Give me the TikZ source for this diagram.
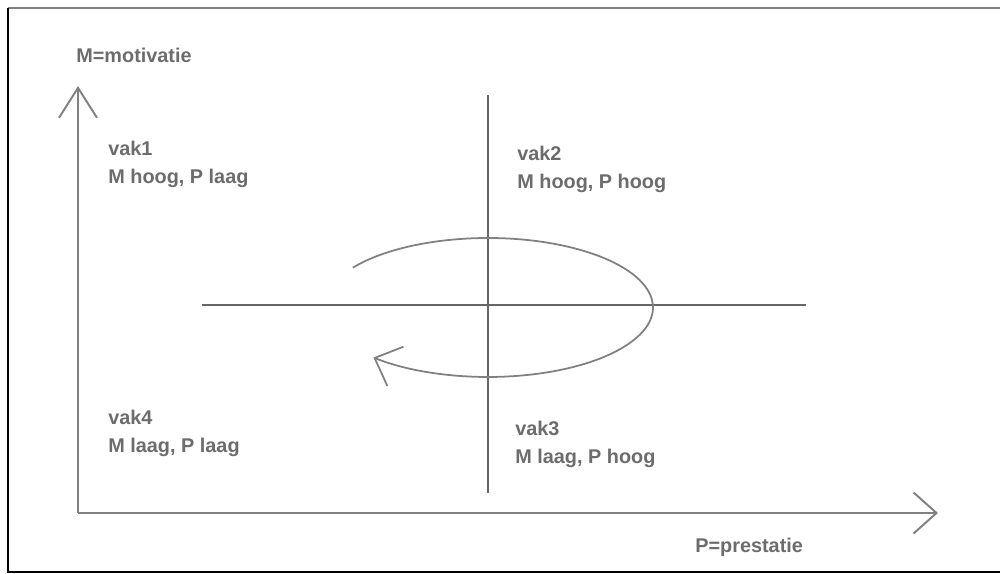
\documentclass[tikz,border=0pt]{standalone}
\usepackage{fontspec}
\setmainfont{Liberation Sans}
\usetikzlibrary{arrows.meta}

\begin{document}
\begin{tikzpicture}[
        x=0.02cm, y=0.02cm,
        label/.style={anchor=west, inner sep=0pt, align=left, text=gray!85!black,
            font=\fontsize{11.3}{16}\selectfont\bfseries},
        axis/.style={draw=gray, line width=1.1pt},
        cross/.style={draw=gray!80!black, line width=1.1pt},
        cycle/.style={draw=gray, line width=1pt,
            -{Straight Barb[length=0.45cm, width=0.85cm, line width=1pt]}}
    ]
        \useasboundingbox (0,0) rectangle (1000,574);
        % frame
        \draw[gray, line width=1.2pt] (8,566) -- (1000,566);
        \draw[black, line width=1.2pt] (1000,2) -- (8,2) -- (8,566);

        % axes
        \coordinate (o) at (78,61);
        \coordinate (ytop) at (78,488);
        \coordinate (xend) at (938,61);
        \draw[axis, -{Straight Barb[length=0.6cm, width=0.76cm, line width=1.1pt]}] (o) -- (ytop);
        \draw[axis, -{Straight Barb[length=0.46cm, width=0.82cm, line width=1.1pt]}] (o) -- (xend);

        % quadrant cross
        \coordinate (ctop) at (488,479);
        \coordinate (cbot) at (488,81);
        \coordinate (cleft) at (202,269);
        \coordinate (cright) at (806,269);
        \draw[cross] (ctop) -- (cbot);
        \draw[cross] (cleft) -- (cright);

        % cycle
        \coordinate (mid) at (488,266.5);
        \draw[cycle] (mid) ++(145:3.3cm and 1.39cm)
            arc[start angle=145, end angle=-134, x radius=3.3cm, y radius=1.39cm];

        % labels
        \node[label] (mlabel) at (76,519) {M=motivatie};
        \node[label] (plabel) at (695,27) {P=prestatie};
        \node[label] (vak1) at (108,410) {vak1\\M hoog, P laag};
        \node[label] (vak2) at (517,405) {vak2\\M hoog, P hoog};
        \node[label] (vak3) at (515,130) {vak3\\M laag, P hoog};
        \node[label] (vak4) at (108,141) {vak4\\M laag, P laag};
    \end{tikzpicture}
\end{document}
